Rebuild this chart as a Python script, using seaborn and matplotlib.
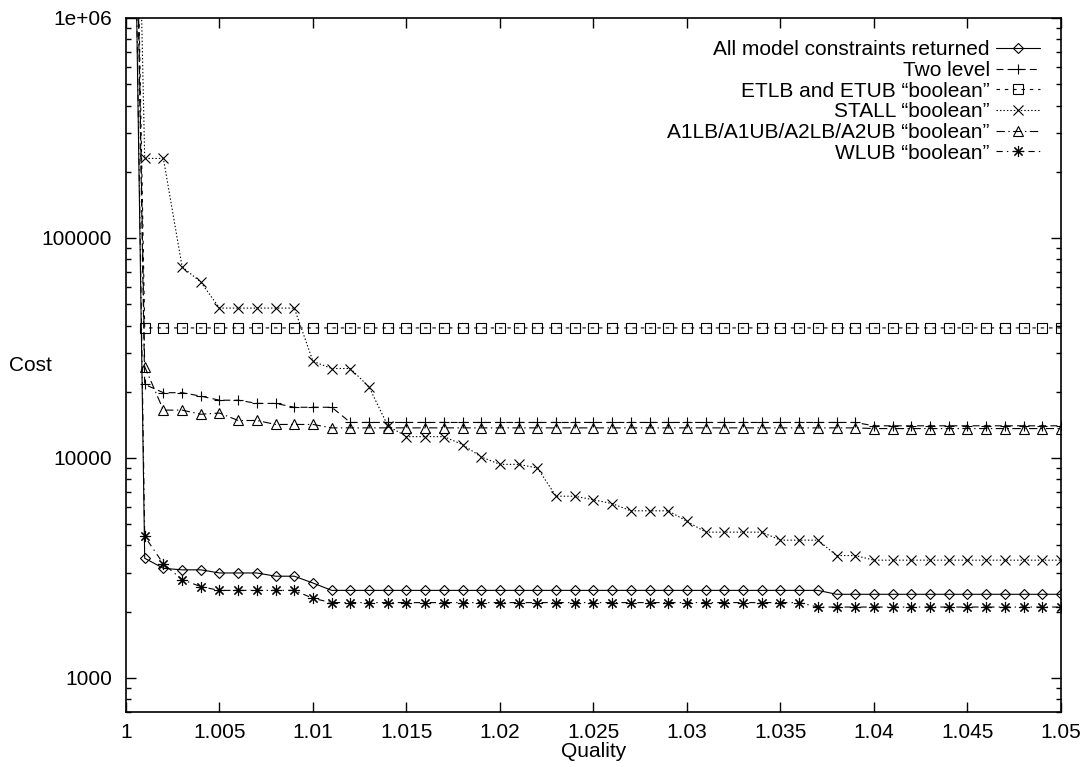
import matplotlib
matplotlib.use("Agg")
import matplotlib.pyplot as plt
import matplotlib.ticker as mticker
import seaborn as sns

# Quality levels 1.000 .. 1.050 in steps of 0.001
quality = [round(1.0 + 0.001 * i, 3) for i in range(51)]

all_model = ([2e9, 3500, 3150, 3100, 3100, 3000, 3000, 3000, 2900, 2900, 2700]
             + [2500] * 27 + [2400] * 13)
two_level = ([2e9, 21600, 19800, 19800, 19100, 18300, 18300, 17700, 17700,
              17000, 17000, 17000] + [14500] * 28 + [14000] * 11)
etlb_etub = [2e9] + [39000] * 50
stall = ([2e9, 230000, 230000, 74000, 63000, 48000, 48000, 48000, 48000, 48000,
          27500, 25500, 25500, 21000, 14000, 12500, 12500, 12500, 11500, 10100,
          9350, 9350, 9000, 6700, 6700, 6450, 6200, 5750, 5750, 5750,
          5150, 4600, 4600, 4600, 4600, 4230, 4230, 4230, 3600, 3600]
         + [3430] * 11)
a1_a2 = ([2e9, 26000, 16500, 16500, 15800, 16000, 14800, 14800, 14200, 14200,
          14200] + [13700] * 29 + [13600] * 11)
wlub = ([2e9, 4400, 3300, 2800, 2600, 2500, 2500, 2500, 2500, 2500, 2300]
        + [2200] * 26 + [2100] * 14)

series_names = [
    "All model constraints returned",
    "Two level",
    "ETLB and ETUB \u201cboolean\u201d",
    "STALL \u201cboolean\u201d",
    "A1LB/A1UB/A2LB/A2UB \u201cboolean\u201d",
    "WLUB \u201cboolean\u201d",
]
series_values = [all_model, two_level, etlb_etub, stall, a1_a2, wlub]

# marker, dash pattern (points), marker size
styles = [
    ("D", None, 5.2),
    ("+", (5, 3), 7.5),
    ("s", (2.5, 3.5), 6.5),
    ("x", (1, 1.5), 7.5),
    ("^", (6, 2.5, 1, 2.5), 7.0),
    ((8, 2, 0), (4.5, 3, 1, 3), 8.0),
]

sns.set_theme(style="ticks")
plt.rcParams.update({
    "lines.scale_dashes": False,
    "axes.linewidth": 1.2,
    "axes.edgecolor": "black",
    "text.color": "black",
    "axes.labelcolor": "black",
    "xtick.color": "black",
    "ytick.color": "black",
})
plt.rcParams["font.family"] = ["Liberation Sans", "DejaVu Sans"]
FS = 15

fig = plt.figure(figsize=(10.87, 7.67), dpi=100)
ax = fig.add_axes([126 / 1087, 1 - 712 / 767, (1061 - 126) / 1087, (712 - 18) / 767])
ax.set_yscale("log")

for name, vals, (marker, dash, ms) in zip(series_names, series_values, styles):
    sns.lineplot(x=quality, y=vals, ax=ax, color="black", linewidth=0.8,
                 marker=marker, markersize=ms, markerfacecolor="none",
                 markeredgecolor="black", markeredgewidth=0.8,
                 label=name, errorbar=None, estimator=None, sort=False)
    line = ax.lines[-1]
    if dash is not None:
        line.set_dashes(dash)

ax.set_xlim(1.0, 1.05)
ax.set_ylim(700, 1e6)

ax.xaxis.set_major_locator(mticker.MultipleLocator(0.005))
ax.xaxis.set_major_formatter(mticker.FuncFormatter(lambda v, p: f"{v:g}"))
ax.yaxis.set_major_locator(mticker.LogLocator(base=10, numticks=10))
ax.yaxis.set_minor_locator(mticker.LogLocator(base=10, subs=range(2, 10), numticks=20))
ax.yaxis.set_minor_formatter(mticker.NullFormatter())
ax.yaxis.set_major_formatter(mticker.FuncFormatter(
    lambda v, p: "1e+06" if v >= 1e6 else f"{v:.0f}"))

ax.tick_params(axis="both", which="both", direction="in", top=True, right=True,
               labelsize=FS)
ax.tick_params(axis="both", which="major", length=7.2, width=1.0)
ax.tick_params(axis="y", which="minor", length=3.6, width=1.0)
ax.tick_params(axis="y", which="major", pad=10)
ax.tick_params(axis="x", which="major", pad=8)

ax.set_xlabel("Quality", fontsize=FS, labelpad=0)
ax.set_ylabel("Cost", fontsize=FS, rotation=0, ha="center", va="center")
ax.yaxis.set_label_coords(-0.102, 0.5)

handles, labels = ax.get_legend_handles_labels()
ax.legend(handles, labels, loc="upper right", bbox_to_anchor=(0.9775, 0.968),
          frameon=False, markerfirst=False, handlelength=2.1,
          handletextpad=0.3, labelspacing=0.08, borderpad=0,
          borderaxespad=0, fontsize=FS, numpoints=1)

fig.savefig("out.png", dpi=100)
